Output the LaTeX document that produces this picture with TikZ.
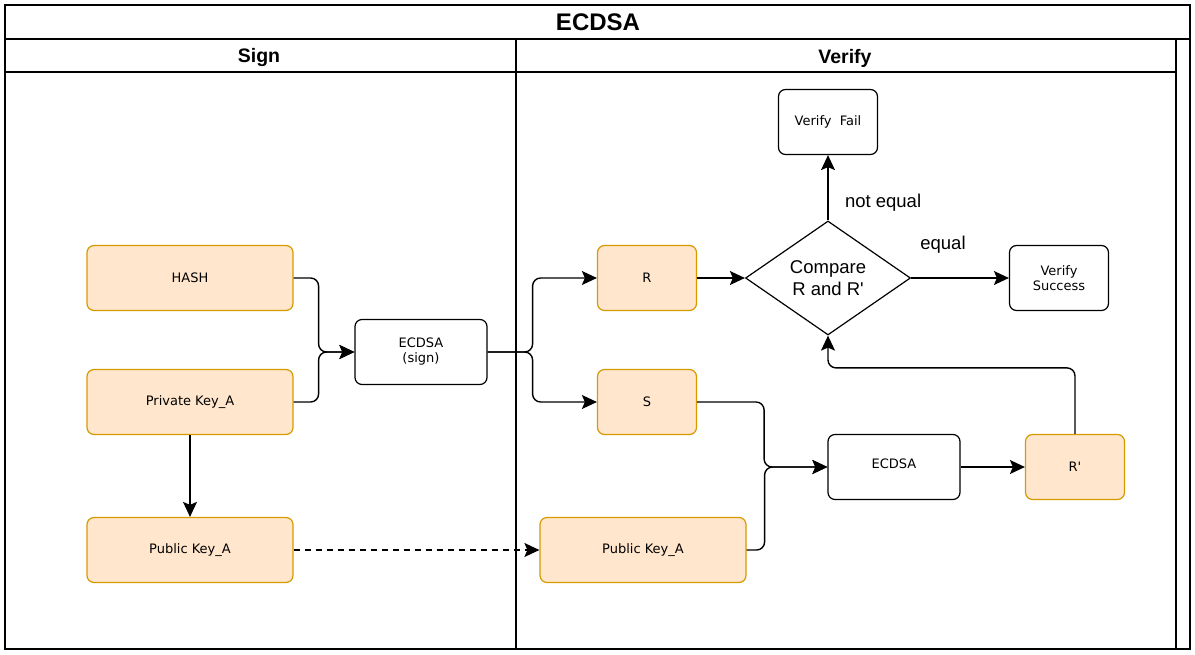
\documentclass[tikz,border=0pt]{standalone}
\usepackage{fontspec}
\setmainfont{Liberation Sans}
\newfontfamily\boxfont{DejaVu Sans}
\usepackage{xcolor,tikz}
\usetikzlibrary{arrows.meta,positioning,shapes.geometric}
\definecolor{keyfill}{HTML}{FFE6CC}
\definecolor{keydraw}{HTML}{D79B00}
\tikzset{>={Stealth[length=15pt,width=14pt,inset=3pt]}}
\tikzset{
  box/.style={draw,line width=1.2pt,rounded corners=7pt,minimum width=132pt,minimum height=65pt,align=center,font=\boxfont\fontsize{13}{15}\selectfont},
  smallbox/.style={box,minimum width=99pt},
  keybox/.style={box,draw=keydraw,fill=keyfill,minimum width=206pt},
  keysmall/.style={keybox,minimum width=99pt},
  decision/.style={diamond,draw,line width=1.2pt,aspect=1.45,minimum width=165pt,minimum height=114pt,inner sep=0pt,align=center,font=\fontsize{18.5}{22}\selectfont},
  flow/.style={->,line width=1.4pt,rounded corners=8pt},
  lane/.style={line width=2pt},
  lbl/.style={font=\fontsize{18.5}{22}\selectfont}
}
\begin{document}
\begin{tikzpicture}[x=1pt,y=-1pt]
\useasboundingbox (0,0) rectangle (1195,655);
\fill[white] (0,0) rectangle (1195,655);
% swimlanes
\draw[lane] (5,5) rectangle (1190,649);
\draw[lane] (5,39)--(1190,39);
\draw[lane] (5,72)--(1176,72);
\draw[lane] (516,39)--(516,649);
\draw[lane] (1176,39)--(1176,649);
\node[font=\bfseries\fontsize{24}{28}\selectfont] (title) at (598,22) {ECDSA};
\node[font=\bfseries\fontsize{19.5}{23}\selectfont] (sign) at (259,58) {Sign};
\node[font=\bfseries\fontsize{19.5}{23}\selectfont] (verify) at (845,58) {Verify};

% sign
\node[keybox] (hash) at (190,278) {HASH};
\node[keybox] (priv) at (190,402) {Private Key\_A};
\node[keybox] (pubA) at (190,550) {Public Key\_A};
\node[box] (signalg) at (421,352) {ECDSA\\(sign)};

% verify
\node[keysmall] (r) at (647,278) {R};
\node[keysmall] (s) at (647,402) {S};
\node[keybox] (pubB) at (643,550) {Public Key\_A};
\node[decision] (cmp) at (828,278) {Compare\\R and R\textquotesingle};
\node[smallbox] (fail) at (828,122) {Verify\ \ Fail};
\node[smallbox] (ok) at (1059,278) {Verify\\Success};
\node[box] (veralg) at (894,467) {\raisebox{7pt}{ECDSA}};
\node[keysmall] (rp) at (1075,467) {R\textquotesingle};

\draw[flow] (hash.east) -- ++(25,0) |- (signalg.west);
\draw[flow] (priv.east) -- ++(25,0) |- (signalg.west);
\draw[flow] (priv.south) -- (pubA.north);
\draw[->,line width=1.2pt,dash pattern=on 6pt off 5pt] (pubA.east) -- (pubB.west);
\draw[flow] (signalg.east) -- ++(45,0) |- (r.west);
\draw[flow] (signalg.east) -- ++(45,0) |- (s.west);
\draw[flow] (r.east) -- (cmp.west);
\draw[flow] (cmp.north) -- node[lbl,right=13pt,pos=0.27] (ne) {not equal} (fail.south);
\draw[flow] (cmp.east) -- (ok.west);
\node[lbl] (eq) at (943,245) {equal};
\draw[flow] (s.east) -- ++(67,0) |- (veralg.west);
\draw[flow] (pubB.east) -- ++(18,0) |- (veralg.west);
\draw[flow] (veralg.east) -- (rp.west);
\draw[flow] (rp.north) -- ++(0,-66) -| (cmp.south);
\end{tikzpicture}
\end{document}
